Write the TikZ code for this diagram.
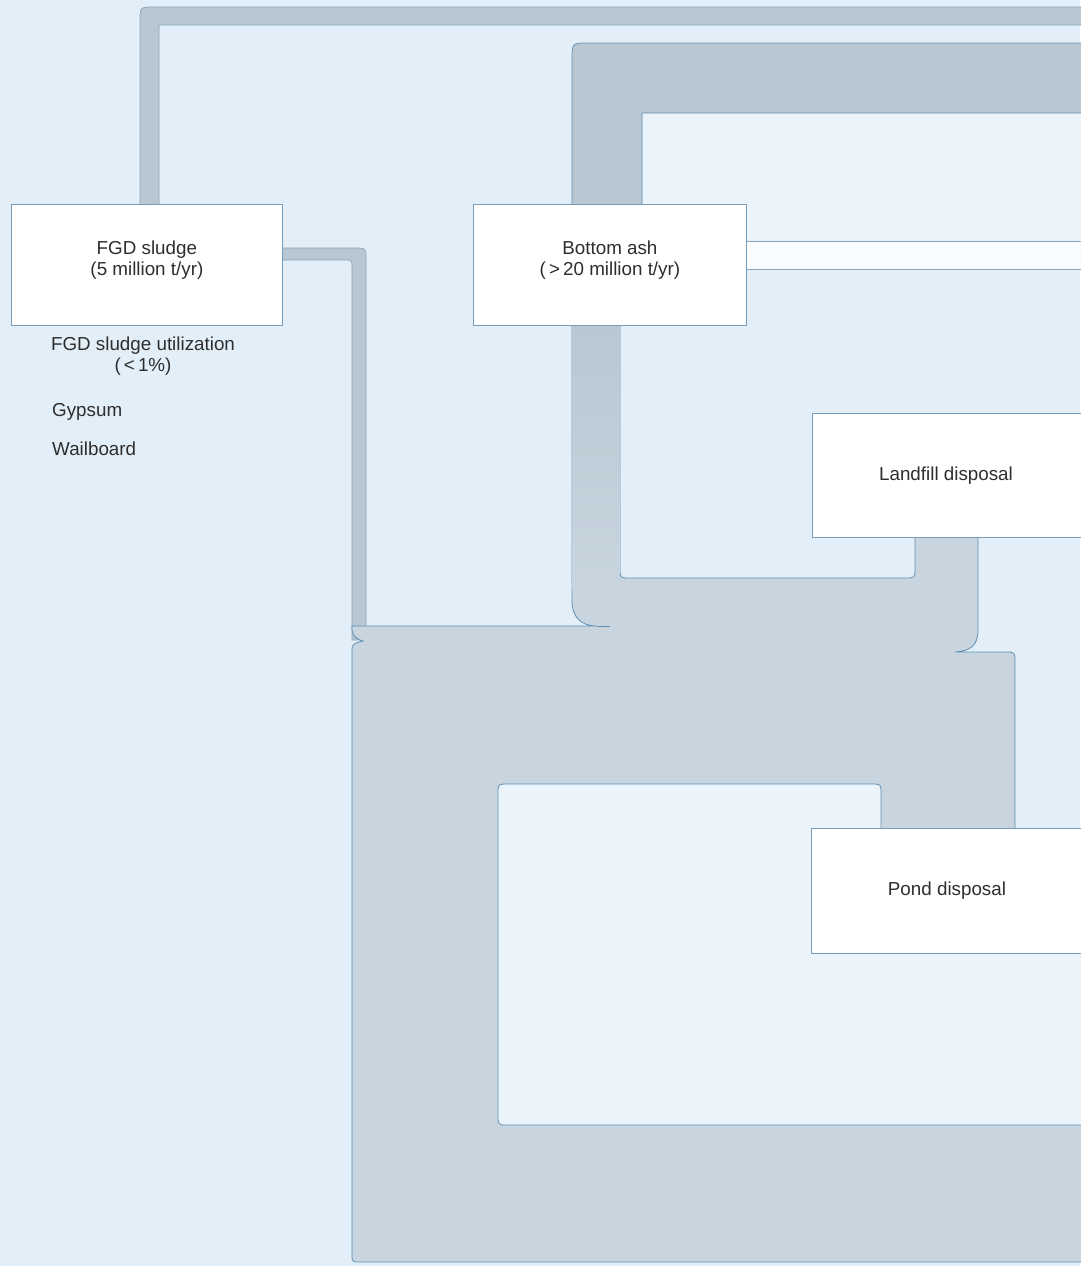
\documentclass[tikz,border=0pt]{standalone}
\usepackage{fontspec}
\setmainfont{Liberation Sans}
\usetikzlibrary{positioning}

\definecolor{paper}{HTML}{E3EFF8}
\definecolor{paperlight}{HTML}{EBF4FB}
\definecolor{flowA}{HTML}{B8C7D2}
\definecolor{flowB}{HTML}{C8D5DF}
\definecolor{rimblue}{HTML}{5F8FB2}
\definecolor{bandrim}{HTML}{8CA5B8}
\definecolor{boxrim}{HTML}{7A9EB9}
\definecolor{ink}{HTML}{2E2E2E}

\begin{document}
\begin{tikzpicture}[x=1pt,y=-1pt,
  box/.style={draw=boxrim, fill=white, line width=0.8pt, anchor=north west, inner sep=0pt},
  txt/.style={text=ink, font=\fontsize{18.8}{21}\selectfont, inner sep=0pt, align=center},
  darkband/.style={fill=flowA, draw=bandrim, line width=0.7pt},
  lightband/.style={fill=flowB, draw=rimblue, line width=0.8pt},
  rim/.style={draw=rimblue, line width=0.8pt}]
\fill[paper] (0,0) rectangle (1080,1266);
\useasboundingbox (0,0) rectangle (1080,1266);

% boxes first, so the flows can start at them
\path node[box, minimum width=271pt, minimum height=121pt] (fgd) at (11,204) {}
  node[box, minimum width=273pt, minimum height=121pt] (ash) at (473,204) {}
  node[box, minimum width=280pt, minimum height=124pt] (landfill) at (812,413) {}
  node[box, minimum width=280pt, minimum height=125pt] (pond) at (811,828) {};
\coordinate (topexit) at (1090,7);
\coordinate (ashexit) at (1090,43);

% flows
\path[darkband] (140,0 |- fgd.north) ++(0,6) -- (140,21) .. controls (140,7) .. (154,7) -- (topexit)
  -- (1090,25) -- (159,25) -- (159,210) -- cycle;
\path[darkband] (fgd.east |- 0,248) ++(-12,0) -- (355,248) .. controls (366,248) .. (366,259) -- (366,640)
  -- (352,640) -- (352,268) .. controls (352,260) .. (344,260) -- (270,260) -- cycle;
\path[lightband] (366,626) -- (597,626) .. controls (581,626) and (572,617) .. (572,601) -- (572,320) -- (620,320)
  -- (620,568) .. controls (620,578) .. (630,578) -- (905,578) .. controls (915,578) .. (915,568)
  -- (915,520) -- (978,520) -- (978,630) .. controls (978,646) and (970,651) .. (955,652)
  -- (1005,652) .. controls (1015,652) .. (1015,662) -- (1015,840) -- (1090,840) -- (1090,1262)
  -- (360,1262) .. controls (352,1262) .. (352,1254) -- (352,648) .. controls (352,643) and (359,642) .. (363,641)
  .. controls (358,640) and (352,636) .. (352,630) -- (352,626) -- cycle;
\shade[top color=flowA, bottom color=flowB] (572.5,326) rectangle (619.5,590);
\path[darkband, draw=rimblue] (572,320) -- (572,59) .. controls (572,43) .. (588,43) -- (ashexit) -- (1090,113)
  -- (642,113) -- (642,320) -- cycle;
\fill[paperlight] (643,114) rectangle (1090,240);
\fill[white!70!paperlight] (ash.east |- 0,241) rectangle (1090,269);
\draw[rim, draw=bandrim] (ash.east |- 0,241) -- (1090,241) (ash.east |- 0,269) -- (1090,269);
\path[lightband, fill=paperlight] (498,1115) -- (498,794) .. controls (498,784) .. (508,784) -- (871,784)
  .. controls (881,784) .. (881,794) -- (881,845) -- (1090,845) -- (1090,1125) -- (508,1125)
  .. controls (498,1125) .. (498,1115) -- cycle;
\draw[rim] (597,626) -- (610,626);

% boxes again on top
\path node[box, minimum width=271pt, minimum height=121pt] at (11,204) {}
  node[box, minimum width=273pt, minimum height=121pt] at (473,204) {}
  node[box, minimum width=280pt, minimum height=124pt] at (812,413) {}
  node[box, minimum width=280pt, minimum height=125pt] at (811,828) {};

% labels
\node[txt, below=37pt of fgd.north] (fgdlabel) {FGD sludge\\(5 million t/yr)};
\node[txt, below=37pt of ash.north] (ashlabel) {Bottom ash\\(\,>\,20 million t/yr)};
\node[txt] (landfilllabel) at ([xshift=134pt]landfill.west) {Landfill disposal};
\node[txt] (pondlabel) at ([xshift=136pt]pond.west) {Pond disposal};
\node[txt] (util) at (143,356) {FGD sludge utilization\\(\,<\,1\%)};
\node[txt, anchor=base west] (gypsum) at (52,416) {Gypsum};
\node[txt, anchor=base west] (wallboard) at (52,455) {Wailboard};
\end{tikzpicture}
\end{document}
